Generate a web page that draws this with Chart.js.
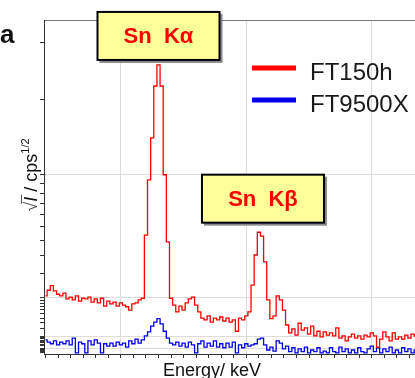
<!DOCTYPE html>
<html>
<head>
<meta charset="utf-8">
<script src="https://cdn.jsdelivr.net/npm/chart.js@4.4.1/dist/chart.umd.min.js"></script>
<style>
  html, body { margin: 0; padding: 0; overflow: hidden; background: #fff; }
  #wrap { width: 415px; height: 378px; overflow: hidden; }
</style>
</head>
<body>
<div id="wrap"><canvas id="spectre" width="460" height="378"></canvas></div>
<script>
// canaux en energie : premier canal et largeur (keV)
const energyStart = 21.6;
const energyStep = 0.1;

// racine du taux de comptage (cps^1/2)
const ft150h = [
  10.2, 11.2, 12.0, 11.1, 10.5, 10.2, 10.7, 9.7, 10.0, 9.5,
  10.2, 9.3, 9.8, 9.7, 10.0, 9.1, 9.7, 9.0, 9.8, 8.4,
  9.3, 8.8, 9.1, 8.4, 9.0, 8.6, 8.3, 7.7, 8.8, 9.0,
  9.5, 9.8, 20.9, 30.6, 38.0, 47.1, 50.8, 47.1, 31.5, 19.7,
  9.8, 8.6, 7.4, 8.4, 7.7, 9.0, 9.7, 10.0, 8.6, 7.4,
  6.3, 6.0, 6.7, 5.6, 6.3, 6.0, 6.5, 5.8, 6.3, 5.6,
  6.0, 4.0, 6.3, 6.0, 6.7, 7.4, 12.1, 17.4, 21.4, 20.7,
  16.2, 9.5, 6.2, 6.7, 10.2, 9.5, 7.7, 5.1, 3.7, 4.4,
  3.3, 5.4, 4.2, 4.6, 3.5, 4.9, 3.2, 4.0, 3.0, 3.9,
  3.3, 3.7, 3.2, 4.6, 2.8, 3.2, 2.3, 3.0, 3.5, 2.8,
  3.2, 2.6, 3.3, 3.0, 3.7, 3.2, 1.2, 2.6, 3.9, 3.0,
  2.3, 3.7, 2.6, 3.0, 2.6, 3.3, 2.8, 3.5, 3.2, 3.0,
  3.3, 2.8, 3.2, 2.6, 3.3, 3.0
];
const ft9500x = [
  2.5, 2.1, 1.8, 2.3, 1.6, 2.1, 1.8, 2.3, 1.6, 2.8,
  0.2, 2.1, 1.8, 0.2, 2.3, 1.6, 2.5, 1.9, 0.2, 1.8,
  1.4, 1.9, 1.4, 2.1, 1.6, 1.9, 1.2, 2.3, 1.8, 2.6,
  1.9, 2.5, 3.2, 3.9, 4.9, 5.6, 6.2, 5.3, 4.0, 2.8,
  1.9, 1.6, 2.1, 1.4, 1.9, 1.2, 2.1, 1.6, 0.2, 1.8,
  2.3, 1.2, 1.9, 1.4, 2.3, 1.2, 1.8, 1.1, 1.9, 1.2,
  2.1, 0.2, 1.6, 1.1, 1.8, 1.4, 1.6, 1.8, 2.6, 2.8,
  1.6, 0.7, 1.2, 0.5, 2.3, 1.9, 0.9, 1.4, 0.4, 1.1,
  0.2, 0.9, 0.4, 1.2, 0.2, 0.7, 0.4, 1.1, 0.2, 0.5,
  0.2, 1.1, 0.4, 0.2, 1.2, 0.4, 0.9, 0.2, 0.7, 0.2,
  1.1, 0.4, 0.2, 0.9, 1.4, 0.4, 1.1, 0.2, 0.9, 0.4,
  1.2, 0.2, 0.7, 0.2, 1.1, 0.4, 0.9, 0.2, 0.7, 0.4,
  1.1, 0.2, 0.9, 0.4, 0.7, 0.2
];

const seriesNames = ['FT150h', 'FT9500X'];
const seriesColors = ['#ff0000', '#0000ee'];

// graduations de l'axe y en cps (axe en racine)
const yTickCps = [0.1, 0.2, 0.3, 0.4, 0.5, 0.6, 0.7, 0.8, 0.9,
  1, 2, 3, 4, 5, 6, 7, 8, 9,
  10, 20, 30, 40, 50, 60, 70, 80, 90,
  100, 200, 300, 400, 500, 600, 700, 800, 900,
  1000, 2000, 3000];
const yGridCps = [1, 10, 100, 1000];
const xTickStep = 0.4;
const xGridKeV = [24, 28, 32];

// etiquettes des raies
const peakLabels = ['Sn  K\u03b1', 'Sn  K\u03b2'];
const peakKeV = [25.2, 28.53];
const peakSqrt = [55.9, 27.3];

const FONT = '"Liberation Sans", Arial, sans-serif';

function toPoints(values) {
  return values.map((v, i) => ({ x: +(energyStart + i * energyStep).toFixed(2), y: v }));
}

function isOn(list, v, fn) {
  return list.some(g => Math.abs(fn(g) - v) < 1e-6);
}

const extras = {
  id: 'extras',
  afterDatasetsDraw(chart) {
    const { ctx, scales: { x, y } } = chart;
    ctx.save();

    // boites des raies
    peakLabels.forEach((txt, i) => {
      const cx = x.getPixelForValue(peakKeV[i]);
      const cy = y.getPixelForValue(peakSqrt[i]);
      const w = 122, h = 48;
      ctx.fillStyle = '#8a8a8a';
      ctx.fillRect(cx - w / 2 + 2, cy - h / 2 + 2, w + 1, h + 1);
      ctx.fillStyle = '#ffff99';
      ctx.fillRect(cx - w / 2, cy - h / 2, w, h);
      ctx.lineWidth = 2;
      ctx.strokeStyle = '#000';
      ctx.strokeRect(cx - w / 2, cy - h / 2, w, h);
      ctx.font = 'bold 22px ' + FONT;
      ctx.fillStyle = '#ff0000';
      ctx.textAlign = 'center';
      ctx.textBaseline = 'middle';
      ctx.fillText(txt, cx, cy + 1);
    });

    // legende
    ctx.textAlign = 'left';
    ctx.textBaseline = 'alphabetic';
    ctx.font = '24px ' + FONT;
    chart.data.datasets.forEach((ds, i) => {
      const ly = 68 + i * 32;
      ctx.fillStyle = ds.borderColor;
      ctx.fillRect(252, ly - 2.5, 44, 5);
      ctx.fillStyle = '#1a1a1a';
      ctx.fillText(ds.label, 310, ly + 12);
    });

    // lettre du panneau
    ctx.font = 'bold 26px ' + FONT;
    ctx.fillStyle = '#111';
    ctx.fillText('a', 0, 43);

    // titre x
    ctx.font = '18px ' + FONT;
    ctx.textAlign = 'center';
    ctx.fillText('Energy/ keV', 212, 376);

    // titre y : racine de I / cps^1/2
    ctx.translate(37, 175);
    ctx.rotate(-Math.PI / 2);
    ctx.textAlign = 'left';
    const parts = [
      ['\u221a', '18px ' + FONT, 0],
      ['I', 'italic 18px ' + FONT, 0],
      [' / cps', '18px ' + FONT, 0],
      ['1/2', '11px ' + FONT, -8]
    ];
    let total = 0;
    parts.forEach(p => { ctx.font = p[1]; p.push(ctx.measureText(p[0]).width); total += p[3]; });
    let px = -total / 2;
    parts.forEach((p, k) => {
      ctx.font = p[1];
      ctx.fillStyle = k === 0 ? '#555' : '#111';
      ctx.fillText(p[0], px, p[2]);
      if (k === 1) {
        ctx.strokeStyle = '#555';
        ctx.lineWidth = 1;
        ctx.beginPath();
        ctx.moveTo(px - 2, -15.5);
        ctx.lineTo(px + p[3] + 2, -15.5);
        ctx.stroke();
      }
      px += p[3];
    });

    ctx.restore();
  }
};

new Chart(document.getElementById('spectre'), {
  type: 'line',
  data: {
    datasets: [
      { label: seriesNames[0], data: toPoints(ft150h), borderColor: seriesColors[0] },
      { label: seriesNames[1], data: toPoints(ft9500x), borderColor: seriesColors[1] }
    ].map(ds => Object.assign(ds, { borderWidth: 1.3, pointRadius: 0, stepped: 'middle', fill: false }))
  },
  options: {
    responsive: false,
    animation: false,
    devicePixelRatio: 1,
    layout: { padding: { left: 40, top: 20, right: 6, bottom: 20 } },
    plugins: { legend: { display: false }, tooltip: { enabled: false } },
    scales: {
      x: {
        type: 'linear',
        min: 21.55,
        max: 34.62,
        afterBuildTicks(scale) {
          const ticks = [];
          for (let k = Math.ceil(scale.min / xTickStep - 1e-9); k * xTickStep <= scale.max + 1e-9; k++) {
            ticks.push({ value: +(k * xTickStep).toFixed(2) });
          }
          scale.ticks = ticks;
        },
        ticks: { display: false },
        grid: {
          color: c => (c.tick && isOn(xGridKeV, c.tick.value, v => v)) ? '#dcdcdc' : 'rgba(0,0,0,0)',
          tickColor: '#333',
          tickLength: 4
        },
        border: { color: '#333', width: 1 }
      },
      x2: {
        type: 'linear',
        position: 'top',
        min: 21.55,
        max: 34.62,
        ticks: { display: false },
        grid: { display: false, drawTicks: false },
        border: { color: '#777', width: 1 }
      },
      y: {
        type: 'linear',
        min: 0,
        max: 58.7,
        afterBuildTicks(scale) {
          scale.ticks = yTickCps.map(c => ({ value: Math.sqrt(c) }));
        },
        ticks: { display: false },
        grid: {
          color: c => (c.tick && isOn(yGridCps, c.tick.value, Math.sqrt)) ? '#dcdcdc' : 'rgba(0,0,0,0)',
          tickColor: '#333',
          tickLength: 4
        },
        border: { color: '#333', width: 1 }
      }
    }
  },
  plugins: [extras]
});
</script>
</body>
</html>
